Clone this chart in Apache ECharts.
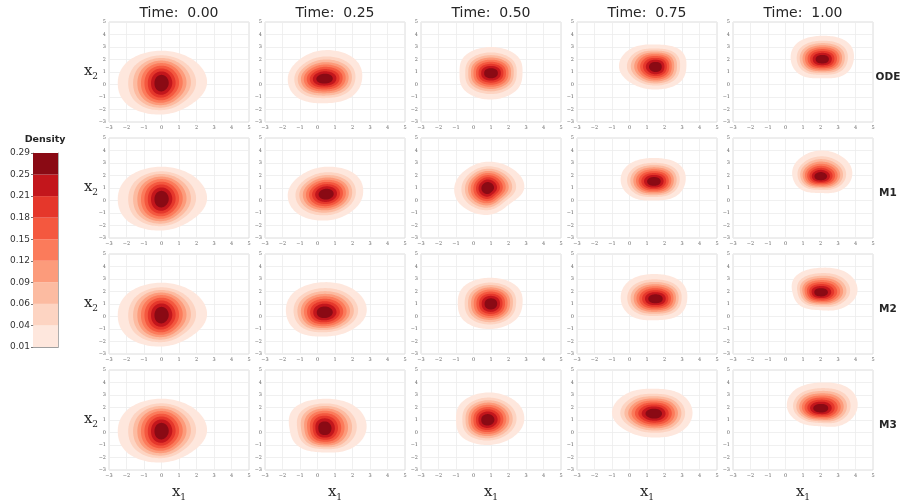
<!DOCTYPE html>
<html><head><meta charset="utf-8">
<script src="https://cdn.jsdelivr.net/npm/echarts@6/dist/echarts.min.js"></script>
<style>html,body{margin:0;padding:0;background:#fff}#c{width:902px;height:503px}</style>
</head><body><div id="c"></div>
<script>
// ---------- data ----------
const times = ['0.00', '0.25', '0.50', '0.75', '1.00'];
const models = ['ODE', 'M1', 'M2', 'M3'];
const levels = [0.01, 0.04, 0.06, 0.09, 0.12, 0.15, 0.18, 0.21, 0.25, 0.29];
const levelLabels = ['0.01', '0.04', '0.06', '0.09', '0.12', '0.15', '0.18', '0.21', '0.25', '0.29'];
const bandColors = ['#fee7dd', '#fdd4c2', '#fcbba1', '#fc9b7b', '#fb7b5b', '#f4583f', '#e5372b', '#c3161c', '#8a0a14'];
// relative size of each filled contour band, outermost = 1
const bandRatio = [1.0, 0.80, 0.70, 0.61, 0.53, 0.45, 0.37, 0.29, 0.20];
const tickLabels = ['\u22123', '\u22122', '\u22121', '0', '1', '2', '3', '4', '5'];
// density mode location (rows: models, cols: times)
const centerX = [
  [0.0, 0.4, 1.0, 1.5, 2.1],
  [0.0, 0.5, 0.8, 1.4, 2.0],
  [0.0, 0.4, 1.0, 1.5, 2.0],
  [0.0, 0.4, 0.8, 1.4, 2.0]
];
const centerY = [
  [0.1, 0.45, 0.9, 1.4, 2.0],
  [0.1, 0.5, 1.0, 1.5, 1.9],
  [0.1, 0.3, 1.0, 1.4, 1.9],
  [0.1, 0.3, 1.0, 1.5, 1.9]
];
// reach of the outermost (0.01) contour from the mode, in 8 directions
const reachE = [
  [2.6, 2.15, 1.8, 1.75, 1.8],
  [2.6, 2.1, 2.1, 1.8, 1.8],
  [2.6, 2.4, 1.8, 1.8, 2.1],
  [2.6, 2.4, 2.1, 2.2, 2.1]
];
const reachNE = [
  [2.6, 2.35, 2.05, 1.95, 2.0],
  [2.6, 2.3, 2.1, 2.0, 2.0],
  [2.6, 2.5, 2.05, 2.0, 2.2],
  [2.6, 2.5, 2.2, 2.2, 2.3]
];
const reachN = [
  [2.6, 2.3, 2.1, 1.8, 1.9],
  [2.6, 2.2, 2.1, 1.9, 2.1],
  [2.6, 2.45, 2.1, 2.0, 2.0],
  [2.6, 2.4, 2.2, 2.0, 2.1]
];
const reachNW = [
  [2.6, 2.1, 2.05, 2.05, 1.95],
  [2.6, 2.1, 1.9, 2.0, 1.85],
  [2.6, 2.4, 2.1, 2.1, 1.95],
  [2.6, 2.4, 2.05, 2.25, 2.1]
];
const reachW = [
  [2.5, 2.1, 1.8, 2.1, 1.8],
  [2.5, 2.2, 1.9, 1.9, 1.6],
  [2.5, 2.2, 1.9, 2.0, 1.6],
  [2.5, 2.0, 1.8, 2.4, 1.9]
];
const reachSW = [
  [2.6, 2.15, 2.05, 1.9, 1.75],
  [2.6, 2.25, 2.05, 1.75, 1.5],
  [2.6, 2.15, 2.05, 1.95, 1.55],
  [2.6, 2.05, 2.0, 2.05, 1.6]
];
const reachS = [
  [2.5, 1.95, 2.1, 1.8, 1.5],
  [2.5, 2.1, 2.15, 1.5, 1.3],
  [2.5, 1.9, 2.0, 1.7, 1.4],
  [2.5, 1.9, 2.0, 1.9, 1.4]
];
const reachSE = [
  [2.4, 2.1, 2.0, 1.85, 1.75],
  [2.4, 2.0, 1.8, 1.7, 1.58],
  [2.4, 2.05, 1.9, 1.85, 1.75],
  [2.4, 2.2, 2.0, 2.1, 1.8]
];
// elongation of the dense core (x, y)
const coreStretchX = [
  [0.8, 1.1, 1.05, 0.95, 1.05],
  [0.8, 1.0, 0.9, 1.05, 1.05],
  [0.8, 1.0, 0.95, 1.08, 1.05],
  [0.8, 0.85, 0.95, 1.05, 1.08]
];
const coreStretchY = [
  [1.3, 0.92, 0.98, 1.1, 0.98],
  [1.3, 1.0, 1.15, 1.0, 0.95],
  [1.3, 1.05, 1.1, 0.95, 0.95],
  [1.3, 1.25, 1.1, 0.98, 0.95]
];

// ---------- layout ----------
const PL = 109, PW = 140, PSTEP = 156;
const PT = 22, PH = 100, RSTEP = 116;
const FONT = "'DejaVu Sans', sans-serif";
const SERIF = "'DejaVu Serif', serif";

const grids = [], xAxes = [], yAxes = [], series = [], graphics = [];

function reachNodes(r, c) {
  return [reachE[r][c], reachNE[r][c], reachN[r][c], reachNW[r][c],
          reachW[r][c], reachSW[r][c], reachS[r][c], reachSE[r][c]];
}
function reachAt(nodes, th) {
  const u = th / (Math.PI / 4);
  const i = Math.floor(u) % 8, t = u - Math.floor(u);
  const p0 = nodes[(i + 7) % 8], p1 = nodes[i], p2 = nodes[(i + 1) % 8], p3 = nodes[(i + 2) % 8];
  return 0.5 * ((2 * p1) + (-p0 + p2) * t + (2 * p0 - 5 * p1 + 4 * p2 - p3) * t * t + (-p0 + 3 * p1 - 3 * p2 + p3) * t * t * t);
}

function makeRender(r, c) {
  const nodes = reachNodes(r, c);
  const mean = nodes.reduce((a, b) => a + b, 0) / nodes.length;
  const sMin = bandRatio[bandRatio.length - 1];
  return function (params, api) {
    const k = api.value(0);
    const s = bandRatio[k];
    const w = 0.6 + 0.4 * s;
    const inner = (1 - s) / (1 - sMin);
    const fx = 1 + (coreStretchX[r][c] - 1) * inner;
    const fy = 1 + (coreStretchY[r][c] - 1) * inner;
    const pts = [];
    const N = 144;
    for (let i = 0; i < N; i++) {
      const th = i / N * 2 * Math.PI;
      const R = s * (w * reachAt(nodes, th) + (1 - w) * mean);
      pts.push(api.coord([centerX[r][c] + fx * R * Math.cos(th), centerY[r][c] + fy * R * Math.sin(th)]));
    }
    return { type: 'polygon', shape: { points: pts }, style: { fill: bandColors[k] } };
  };
}

const axisCommon = {
  type: 'value', min: -3, max: 5, interval: 1,
  axisLine: { show: false }, axisTick: { show: false },
  splitLine: { show: true, lineStyle: { color: '#ececec', width: 0.8 } },
  axisLabel: {
    fontSize: 5, color: '#666', fontFamily: SERIF, margin: 3,
    formatter: v => tickLabels[v + 3]
  }
};

for (let r = 0; r < models.length; r++) {
  for (let c = 0; c < times.length; c++) {
    const gi = grids.length;
    grids.push({
      left: PL + c * PSTEP, top: PT + r * RSTEP, width: PW, height: PH,
      show: true, borderColor: '#dcdcdc', borderWidth: 1, backgroundColor: '#fff'
    });
    xAxes.push(Object.assign({}, axisCommon, { gridIndex: gi }));
    yAxes.push(Object.assign({}, axisCommon, { gridIndex: gi }));
    series.push({
      type: 'custom', xAxisIndex: gi, yAxisIndex: gi, clip: true, silent: true,
      renderItem: makeRender(r, c),
      data: bandColors.map((_, k) => [k, levels[k]]),
      z: 3
    });
  }
}

// colour bar
const cb = grids.length;
grids.push({ left: 33, top: 153, width: 25, height: 194, show: false });
const lineStyleCb = { show: true, lineStyle: { color: '#999', width: 0.8 } };
xAxes.push({ gridIndex: cb, type: 'category', data: ['d'], position: 'bottom',
  axisLine: lineStyleCb, axisTick: { show: false }, axisLabel: { show: false } });
xAxes.push({ gridIndex: cb, type: 'category', data: ['d'], position: 'top',
  axisLine: lineStyleCb, axisTick: { show: false }, axisLabel: { show: false } });
yAxes.push({ gridIndex: cb, type: 'value', min: 0, max: 9, interval: 1, position: 'left',
  axisLine: lineStyleCb,
  axisTick: { show: true, length: 2, lineStyle: { color: '#777' } },
  splitLine: { show: false },
  axisLabel: { fontSize: 9, color: '#333', fontFamily: FONT, margin: 3, formatter: v => levelLabels[v] } });
yAxes.push({ gridIndex: cb, type: 'value', min: 0, max: 9, interval: 1, position: 'right',
  axisLine: lineStyleCb, axisTick: { show: false }, splitLine: { show: false }, axisLabel: { show: false } });
const cbX = xAxes.length - 2, cbY = yAxes.length - 2;
bandColors.forEach((col) => {
  series.push({ type: 'bar', xAxisIndex: cbX, yAxisIndex: cbY, stack: 'cb', barWidth: '100%',
    silent: true, data: [1], itemStyle: { color: col }, z: 1 });
});

// titles, labels
const subRich = () => ({
  x: { fontSize: 15, fontFamily: SERIF, fill: '#262626', lineHeight: 18, verticalAlign: 'bottom' },
  s: { fontSize: 9, fontFamily: SERIF, fill: '#262626', lineHeight: 18, verticalAlign: 'bottom', padding: [0, 0, -2, 0] }
});
times.forEach((t, c) => {
  graphics.push({ type: 'text', x: PL + c * PSTEP + PW / 2, y: 13,
    style: { text: 'Time:  ' + t, font: "14px " + FONT, fill: '#262626', align: 'center', verticalAlign: 'middle' } });
  graphics.push({ type: 'text', x: PL + c * PSTEP + PW / 2, y: 491,
    style: { text: '{x|x}{s|1}', align: 'center', verticalAlign: 'middle', rich: subRich() } });
});
models.forEach((m, r) => {
  graphics.push({ type: 'text', x: 888, y: PT + r * RSTEP + 55,
    style: { text: m, font: "bold 10.5px " + FONT, fill: '#262626', align: 'center', verticalAlign: 'middle' } });
  graphics.push({ type: 'text', x: 91, y: PT + r * RSTEP + 48,
    style: { text: '{x|x}{s|2}', align: 'center', verticalAlign: 'middle', rich: subRich() } });
});
graphics.push({ type: 'text', x: 45, y: 140,
  style: { text: 'Density', font: "bold 9.5px " + FONT, fill: '#262626', align: 'center', verticalAlign: 'middle' } });

const chart = echarts.init(document.getElementById('c'), null, { renderer: 'canvas' });
chart.setOption({
  animation: false,
  backgroundColor: '#fff',
  grid: grids, xAxis: xAxes, yAxis: yAxes, series: series, graphic: graphics
});
</script></body></html>
